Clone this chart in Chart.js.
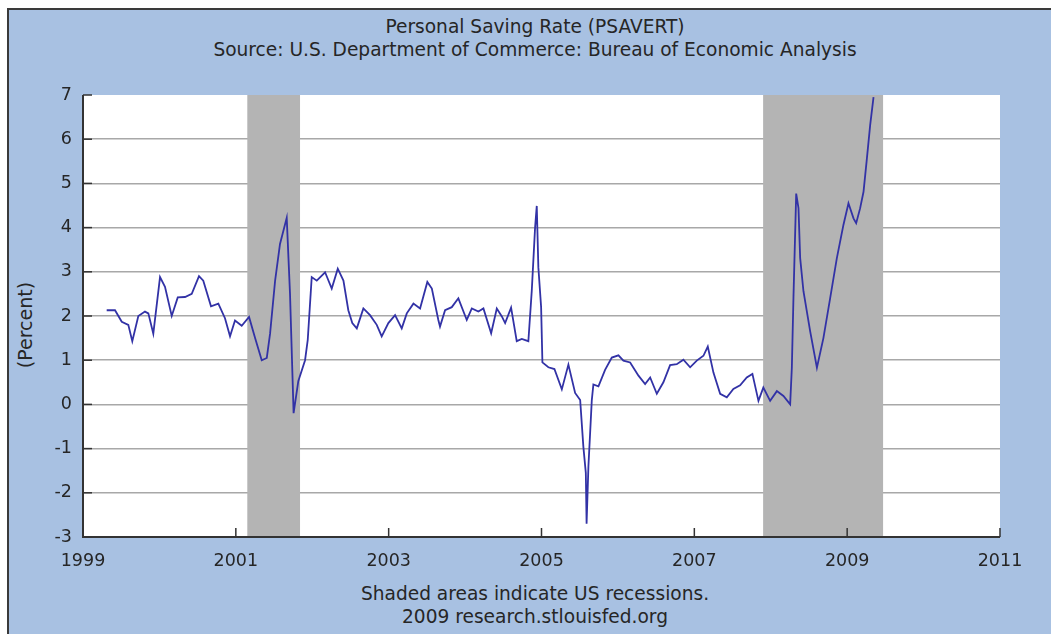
<!DOCTYPE html>
<html>
<head>
<meta charset="utf-8">
<script src="https://cdn.jsdelivr.net/npm/chart.js"></script>
<style>
  html, body { margin: 0; padding: 0; background: #fff; }
  #wrap { position: relative; width: 1051px; height: 634px; overflow: hidden; }
  #panel {
    position: absolute; left: 7px; top: 8px; width: 1044px; height: 626px;
    background: rgb(168, 193, 226);
    border-top: 2px solid #3a3a3a; border-left: 2px solid #3a3a3a;
  }
  .txt {
    position: absolute; left: 0; width: 1070px; text-align: center;
    font-family: "DejaVu Sans", Verdana, sans-serif; font-size: 18.6px;
    line-height: 20px; color: #262626; white-space: nowrap;
  }
  #ylabel {
    position: absolute; left: 25px; top: 325px; transform: translate(-50%, -50%) rotate(-90deg);
    font-family: "DejaVu Sans", Verdana, sans-serif; font-size: 19px; color: #262626;
    white-space: nowrap;
  }
  #c { position: absolute; left: 0; top: 0; }
</style>
</head>
<body>
<div id="wrap">
  <div id="panel"></div>
  <div class="txt" style="top:17px">Personal Saving Rate (PSAVERT)</div>
  <div class="txt" style="top:40px">Source: U.S. Department of Commerce: Bureau of Economic Analysis</div>
  <div id="ylabel">(Percent)</div>
  <div class="txt" style="top:584px">Shaded areas indicate US recessions.</div>
  <div class="txt" style="top:607px">2009 research.stlouisfed.org</div>
  <canvas id="c" width="1051" height="634"></canvas>
</div>
<script>
// dates as decimal years
const dates = [
  1999.310, 1999.419, 1999.507, 1999.593, 1999.645, 1999.724, 1999.811, 1999.855, 1999.920,
  2000.008, 2000.073, 2000.161, 2000.240, 2000.335, 2000.423, 2000.518, 2000.574, 2000.675,
  2000.771, 2000.858, 2000.924, 2000.989, 2001.077, 2001.173, 2001.252, 2001.339, 2001.405,
  2001.448, 2001.514, 2001.578, 2001.666, 2001.709, 2001.756, 2001.818, 2001.906, 2001.941,
  2001.993, 2002.059, 2002.168, 2002.255, 2002.334, 2002.408, 2002.472, 2002.524, 2002.583,
  2002.669, 2002.756, 2002.844, 2002.909, 2002.996, 2003.084, 2003.171, 2003.237, 2003.324,
  2003.411, 2003.506, 2003.565, 2003.650, 2003.672, 2003.738, 2003.826, 2003.912, 2004.022,
  2004.088, 2004.174, 2004.240, 2004.341, 2004.415, 2004.481, 2004.524, 2004.602, 2004.676,
  2004.742, 2004.828, 2004.873, 2004.916, 2004.938, 2004.959, 2004.995, 2005.012, 2005.090,
  2005.169, 2005.266, 2005.352, 2005.440, 2005.506, 2005.548, 2005.580, 2005.590, 2005.614,
  2005.636, 2005.658, 2005.679, 2005.745, 2005.832, 2005.920, 2006.007, 2006.072, 2006.160,
  2006.269, 2006.356, 2006.422, 2006.509, 2006.595, 2006.683, 2006.770, 2006.857, 2006.945,
  2007.032, 2007.119, 2007.176, 2007.250, 2007.338, 2007.425, 2007.511, 2007.599, 2007.686,
  2007.760, 2007.839, 2007.903, 2007.992, 2008.080, 2008.166, 2008.254, 2008.276, 2008.297,
  2008.333, 2008.363, 2008.385, 2008.428, 2008.516, 2008.604, 2008.689, 2008.777, 2008.865,
  2008.951, 2009.017, 2009.083, 2009.118, 2009.170, 2009.214, 2009.258, 2009.301, 2009.345
];
const saving = [
  2.13, 2.13, 1.87, 1.80, 1.43, 2.00, 2.10, 2.06, 1.60,
  2.88, 2.66, 2.00, 2.42, 2.43, 2.50, 2.90, 2.80, 2.22,
  2.28, 1.95, 1.54, 1.90, 1.78, 1.98, 1.50, 1.00, 1.05,
  1.60, 2.80, 3.63, 4.22, 2.50, -0.20, 0.53, 1.00, 1.46,
  2.88, 2.80, 2.99, 2.62, 3.07, 2.80, 2.13, 1.84, 1.72,
  2.17, 2.02, 1.80, 1.54, 1.84, 2.02, 1.72, 2.06, 2.28,
  2.17, 2.77, 2.62, 1.91, 1.76, 2.13, 2.20, 2.40, 1.91,
  2.17, 2.10, 2.17, 1.61, 2.17, 1.99, 1.84, 2.19, 1.43,
  1.48, 1.43, 2.58, 4.00, 4.49, 3.10, 2.20, 0.95, 0.84,
  0.80, 0.34, 0.90, 0.26, 0.10, -0.96, -1.55, -2.70, -1.40,
  -0.66, 0.09, 0.45, 0.41, 0.78, 1.06, 1.11, 0.99, 0.95,
  0.65, 0.46, 0.61, 0.24, 0.50, 0.89, 0.91, 1.01, 0.84,
  0.99, 1.10, 1.31, 0.72, 0.24, 0.16, 0.35, 0.43, 0.61,
  0.69, 0.08, 0.38, 0.08, 0.30, 0.19, 0.00, 0.83, 2.40,
  4.77, 4.44, 3.31, 2.56, 1.65, 0.83, 1.50, 2.40, 3.31,
  4.06, 4.55, 4.21, 4.10, 4.44, 4.81, 5.56, 6.32, 6.95
];
// recession start / end (decimal years)
const recessionStart = [2001.15, 2007.90];
const recessionEnd = [2001.84, 2009.47];
const yTicks = [-3, -2, -1, 0, 1, 2, 3, 4, 5, 6, 7];
const xTicks = [1999, 2001, 2003, 2005, 2007, 2009, 2011];

const points = dates.map((d, i) => ({ x: d, y: saving[i] }));

// white plot area
const plotBg = {
  id: 'plotBg',
  beforeDraw(chart) {
    const { ctx, chartArea: a } = chart;
    ctx.save();
    ctx.fillStyle = '#ffffff';
    ctx.fillRect(a.left, a.top, a.right - a.left, a.bottom - a.top);
    ctx.restore();
  }
};

// recession bars over the grid, under the line
const recessions = {
  id: 'recessions',
  beforeDatasetsDraw(chart) {
    const { ctx, chartArea: a, scales } = chart;
    ctx.save();
    ctx.fillStyle = '#b4b4b4';
    recessionStart.forEach((s, i) => {
      const x1 = scales.x.getPixelForValue(s);
      const x2 = scales.x.getPixelForValue(recessionEnd[i]);
      ctx.fillRect(x1, a.top, x2 - x1, a.bottom - a.top);
    });
    ctx.restore();
  }
};

// axis lines and small inside ticks
const axisMarks = {
  id: 'axisMarks',
  afterDatasetsDraw(chart) {
    const { ctx, chartArea: a, scales } = chart;
    ctx.save();
    ctx.strokeStyle = '#333333';
    ctx.lineWidth = 2;
    ctx.beginPath();
    ctx.moveTo(a.left, a.top);
    ctx.lineTo(a.left, a.bottom);
    ctx.lineTo(a.right, a.bottom);
    ctx.stroke();
    ctx.lineWidth = 1.5;
    yTicks.forEach(v => {
      const y = scales.y.getPixelForValue(v);
      ctx.beginPath();
      ctx.moveTo(a.left, y);
      ctx.lineTo(a.left + 9, y);
      ctx.stroke();
    });
    xTicks.forEach(v => {
      const x = scales.x.getPixelForValue(v);
      ctx.beginPath();
      ctx.moveTo(x, a.bottom);
      ctx.lineTo(x, a.bottom - 9);
      ctx.stroke();
    });
    ctx.restore();
  }
};

new Chart(document.getElementById('c'), {
  type: 'line',
  data: {
    datasets: [{
      data: points,
      borderColor: '#3232a6',
      borderWidth: 1.8,
      pointRadius: 0,
      tension: 0,
      fill: false
    }]
  },
  options: {
    responsive: false,
    animation: false,
    devicePixelRatio: 1,
    layout: { padding: { top: 95, right: 51, left: 0, bottom: 0 } },
    plugins: { legend: { display: false }, tooltip: { enabled: false } },
    scales: {
      x: {
        type: 'linear',
        min: 1999, max: 2011,
        afterBuildTicks: s => { s.ticks = xTicks.map(v => ({ value: v })); },
        afterFit: s => { s.height = 97; },
        grid: { display: false, drawTicks: false },
        border: { display: false },
        ticks: {
          padding: 14,
          color: '#262626',
          font: { family: 'DejaVu Sans', size: 17.5 },
          callback: v => String(v),
          maxRotation: 0
        }
      },
      y: {
        min: -3, max: 7,
        afterBuildTicks: s => { s.ticks = yTicks.map(v => ({ value: v })); },
        afterFit: s => { s.width = 83; },
        grid: {
          drawTicks: false,
          color: c => (c.tick.value === 7 || c.tick.value === -3) ? 'rgba(0,0,0,0)' : '#a8a8a8',
          lineWidth: 1.5
        },
        border: { display: false },
        ticks: {
          padding: 11,
          color: '#262626',
          font: { family: 'DejaVu Sans', size: 17.5 }
        }
      }
    }
  },
  plugins: [plotBg, recessions, axisMarks]
});
</script>
</body>
</html>
